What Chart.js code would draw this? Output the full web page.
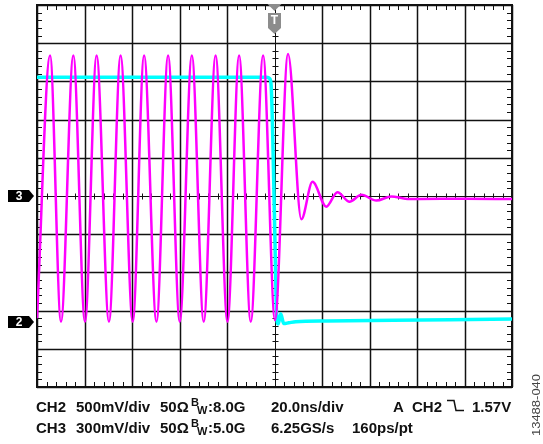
<!DOCTYPE html>
<html>
<head>
<meta charset="utf-8">
<script src="https://cdn.jsdelivr.net/npm/chart.js@4.4.1/dist/chart.umd.min.js"></script>
<style>
  html, body { margin:0; padding:0; background:#fff; overflow:hidden; }
  #wrap { position:relative; width:543px; height:444px; }
</style>
</head>
<body>
<div id="wrap"><canvas id="scope" width="543" height="444"></canvas></div>
<script>
// time in ns (20 ns/div, trigger at 0), level in divisions from screen centre
const ch3Time  = [-100, -94.5, -89.9, -84.7, -79.8, -74.9, -69.7, -64.8, -59.7, -54.9, -49.7,
                  -44.8, -39.9, -34.8, -29.8, -24.8, -19.8, -14.9, -10.0, -4.8, 0.2, 5.7,
                  11.3, 16.0, 21.8, 26.5, 31.6, 36.6, 42.9, 49.2, 55, 61, 80, 100];
const ch3Level = [-3.2, 3.68, -3.29, 3.68, -3.29, 3.68, -3.29, 3.68, -3.29, 3.68, -3.29,
                  3.68, -3.29, 3.68, -3.29, 3.68, -3.29, 3.68, -3.29, 3.68, -3.25, 3.72,
                  -0.61, 0.37, -0.28, 0.10, -0.15, 0.03, -0.12, -0.01, -0.07, -0.08, -0.07, -0.08];

const ch2Time  = [-100, -3.3, -2.0, -1.4, -0.7, 0.1, 0.95, 1.6, 2.6, 3.9, 6.0, 8.9, 22, 50, 74, 100];
const ch2Level = [3.11, 3.11, 3.07, 2.88, 1.47, -0.89, -3.19, -3.35, -3.08, -3.34, -3.32, -3.29,
                  -3.27, -3.25, -3.24, -3.22];

const ch3Ground = 0;
const ch2Ground = -3.3;
const trigTime  = 0;

const xGrid = [-100, -80, -60, -40, -20, 0, 20, 40, 60, 80, 100];
const yGrid = [-5, -4, -3, -2, -1, 0, 1, 2, 3, 4, 5];

const row1 = [
  ['CH2', 36], ['500mV/div', 76], ['50Ω', 160], ['BW:8.0G', 191], ['20.0ns/div', 271],
  ['A', 393], ['CH2', 412], ['TRIG', 447], ['1.57V', 472]
];
const row2 = [
  ['CH3', 36], ['300mV/div', 76], ['50Ω', 160], ['BW:5.0G', 191], ['6.25GS/s', 271], ['160ps/pt', 352]
];

const toPts = (t, v) => t.map((x, i) => ({ x, y: v[i] }));

const scopePlugin = {
  id: 'scope',
  beforeDatasetsDraw(chart) {
    const { ctx, chartArea: a, scales: { x, y } } = chart;
    ctx.save();
    ctx.strokeStyle = '#111';
    ctx.lineWidth = 1.5;
    ctx.beginPath();
    xGrid.forEach(v => {
      if (v === 0) return;
      const px = Math.round(x.getPixelForValue(v)) + 0.5;
      ctx.moveTo(px, a.top); ctx.lineTo(px, a.bottom);
    });
    yGrid.forEach(v => {
      if (v === 0) return;
      const py = Math.round(y.getPixelForValue(v)) + 0.5;
      ctx.moveTo(a.left, py); ctx.lineTo(a.right, py);
    });
    ctx.stroke();

    // centre lines with minor ticks
    const cx = Math.round(x.getPixelForValue(0)) + 0.5;
    const cy = Math.round(y.getPixelForValue(0)) + 0.5;
    ctx.lineWidth = 1;
    ctx.beginPath();
    ctx.moveTo(cx, a.top); ctx.lineTo(cx, a.bottom);
    ctx.moveTo(a.left, cy); ctx.lineTo(a.right, cy);
    for (let t = -100; t <= 100; t += 4) {
      const px = Math.round(x.getPixelForValue(t)) + 0.5;
      ctx.moveTo(px, a.top); ctx.lineTo(px, a.top + 5);
      ctx.moveTo(px, a.bottom); ctx.lineTo(px, a.bottom - 5);
      ctx.moveTo(px, cy - 3); ctx.lineTo(px, cy + 3);
    }
    for (let k = -25; k <= 25; k++) {
      const py = Math.round(y.getPixelForValue(k / 5)) + 0.5;
      ctx.moveTo(a.left, py); ctx.lineTo(a.left + 5, py);
      ctx.moveTo(a.right, py); ctx.lineTo(a.right - 5, py);
      ctx.moveTo(cx - 3, py); ctx.lineTo(cx + 3, py);
    }
    ctx.stroke();

    ctx.lineWidth = 2;
    ctx.strokeRect(a.left, a.top, a.right - a.left, a.bottom - a.top);
    ctx.restore();
  },
  afterDatasetsDraw(chart) {
    const { ctx, chartArea: a, scales: { x, y } } = chart;
    ctx.save();
    // channel ground markers
    [[ '3', ch3Ground ], [ '2', ch2Ground ]].forEach(([lbl, lv]) => {
      const py = y.getPixelForValue(lv);
      ctx.fillStyle = '#000';
      ctx.beginPath();
      ctx.moveTo(8, py - 6); ctx.lineTo(29, py - 6); ctx.lineTo(34, py);
      ctx.lineTo(29, py + 6); ctx.lineTo(8, py + 6); ctx.closePath();
      ctx.fill();
      ctx.fillStyle = '#fff';
      ctx.font = 'bold 12px "Liberation Sans", Arial, sans-serif';
      ctx.textAlign = 'center'; ctx.textBaseline = 'middle';
      ctx.fillText(lbl, 19, py + 0.5);
    });
    // trigger marker
    const tx = x.getPixelForValue(trigTime);
    ctx.fillStyle = '#8c8c8c';
    ctx.beginPath();
    ctx.moveTo(tx - 7, a.top - 1); ctx.lineTo(tx + 7, a.top - 1); ctx.lineTo(tx, a.top + 6);
    ctx.closePath(); ctx.fill();
    ctx.beginPath();
    ctx.moveTo(tx - 6.5, a.top + 8); ctx.lineTo(tx + 6.5, a.top + 8); ctx.lineTo(tx + 6.5, a.top + 23);
    ctx.lineTo(tx, a.top + 29); ctx.lineTo(tx - 6.5, a.top + 23); ctx.closePath(); ctx.fill();
    ctx.fillStyle = '#fff';
    ctx.font = 'bold 12px "Liberation Sans", Arial, sans-serif';
    ctx.textAlign = 'center'; ctx.textBaseline = 'middle';
    ctx.fillText('T', tx, a.top + 16);
    ctx.restore();
  },
  afterDraw(chart) {
    const { ctx } = chart;
    ctx.save();
    ctx.fillStyle = '#111';
    ctx.strokeStyle = '#111';
    ctx.textAlign = 'left'; ctx.textBaseline = 'alphabetic';
    const big = 'bold 15px "Liberation Sans", Arial, sans-serif';
    const small = 'bold 11px "Liberation Sans", Arial, sans-serif';
    const drawRow = (row, base) => {
      row.forEach(([txt, px]) => {
        if (txt === 'TRIG') {
          ctx.lineWidth = 1.5;
          ctx.beginPath();
          ctx.moveTo(px, base - 11); ctx.lineTo(px + 7, base - 11);
          ctx.lineTo(px + 9, base - 1); ctx.lineTo(px + 17, base - 1);
          ctx.stroke();
        } else if (txt.startsWith('BW')) {
          ctx.font = small;
          ctx.fillText('B', px, base - 6);
          ctx.fillText('W', px + 6, base + 2);
          ctx.font = big;
          ctx.fillText(txt.slice(2), px + 17, base);
        } else {
          ctx.font = big;
          ctx.fillText(txt, px, base);
        }
      });
    };
    drawRow(row1, 411.5);
    drawRow(row2, 432.5);

    ctx.fillStyle = '#444';
    ctx.translate(540, 405);
    ctx.rotate(-Math.PI / 2);
    ctx.scale(1, 0.8);
    ctx.font = '13px "Liberation Sans", Arial, sans-serif';
    ctx.textAlign = 'center';
    ctx.fillText('13488-040', 0, 0);
    ctx.restore();
  }
};

new Chart(document.getElementById('scope'), {
  type: 'line',
  data: {
    datasets: [
      {
        label: 'CH3',
        data: toPts(ch3Time, ch3Level),
        borderColor: '#ff00ff',
        borderWidth: 2.5,
        pointRadius: 0,
        cubicInterpolationMode: 'monotone',
        fill: false
      },
      {
        label: 'CH2',
        data: toPts(ch2Time, ch2Level),
        borderColor: '#00ffff',
        borderWidth: 3.5,
        pointRadius: 0,
        cubicInterpolationMode: 'monotone',
        fill: false
      }
    ]
  },
  options: {
    responsive: false,
    animation: false,
    events: [],
    layout: { padding: { left: 37, right: 31, top: 5, bottom: 57 } },
    plugins: { legend: { display: false }, tooltip: { enabled: false } },
    scales: {
      x: { type: 'linear', min: -100, max: 100, display: false },
      y: { type: 'linear', min: -5, max: 5, display: false }
    }
  },
  plugins: [scopePlugin]
});
</script>
</body>
</html>
